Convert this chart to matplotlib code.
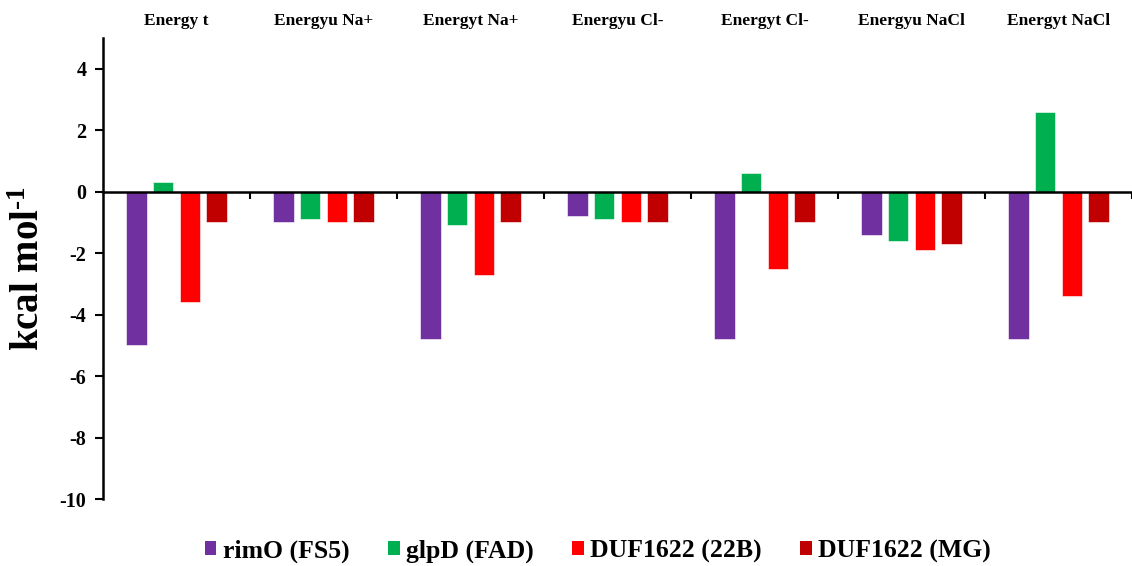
import matplotlib
matplotlib.use("Agg")
import matplotlib.pyplot as plt
import numpy as np
from matplotlib.patches import Patch

categories = ["Energy t", "Energyu Na+", "Energyt Na+", "Energyu Cl-",
              "Energyt Cl-", "Energyu NaCl", "Energyt NaCl"]
series_names = ["rimO (FS5)", "glpD (FAD)", "DUF1622 (22B)", "DUF1622 (MG)"]
rimO = [-5.0, -1.0, -4.8, -0.8, -4.8, -1.4, -4.8]
glpD = [0.3, -0.9, -1.1, -0.9, 0.6, -1.6, 2.6]
duf_22b = [-3.6, -1.0, -2.7, -1.0, -2.5, -1.9, -3.4]
duf_mg = [-1.0, -1.0, -1.0, -1.0, -1.0, -1.7, -1.0]
yticks = [-10, -8, -6, -4, -2, 0, 2, 4]

colors = ["#7030A0", "#00B050", "#FF0000", "#C00000"]
serif = ["Liberation Serif", "DejaVu Serif"]
plt.rcParams["mathtext.fontset"] = "custom"
plt.rcParams["mathtext.rm"] = "Liberation Serif:bold"
plt.rcParams["mathtext.bf"] = "Liberation Serif:bold"
plt.rcParams["mathtext.it"] = "Liberation Serif:bold"

W, H = 1132, 566
fig = plt.figure(figsize=(W / 100, H / 100), dpi=100)
ax = fig.add_axes([103 / W, (H - 499) / H, 1 - 103 / W, (499 - 38) / H])

x = np.arange(len(categories))
width = 0.141
pitch = 0.182
offsets = (np.arange(4) - 1.5) * pitch
for vals, off, c, name in zip([rimO, glpD, duf_22b, duf_mg], offsets, colors, series_names):
    ax.bar(x + off, vals, width, color=c, edgecolor="white", linewidth=0.4, label=name, zorder=2)

ax.set_xlim(-0.5, -0.5 + (W - 103) / 148.6)
ax.set_ylim(-10, 5)

# spines: left axis from -10 to 5, horizontal axis on zero
for s in ["top", "right"]:
    ax.spines[s].set_visible(False)
ax.spines["bottom"].set_position(("data", 0))
ax.spines["bottom"].set_linewidth(1.8)
ax.spines["bottom"].set_zorder(3)
ax.spines["left"].set_linewidth(1.8)

ax.set_xticks(np.arange(len(categories)) + 0.5)
ax.set_xticklabels([])
ax.tick_params(axis="x", direction="out", length=5, width=1.5)
ax.set_yticks(yticks)
ax.set_yticklabels([str(t) for t in yticks], fontfamily=serif, fontweight="bold", fontsize=14.5)
ax.tick_params(axis="y", direction="out", length=6, width=1.5, pad=6)

ax.set_ylabel("kcal mol$^{\\text{-1}}$", fontfamily=serif, fontweight="bold", fontsize=28)
ax.yaxis.set_label_coords(-55 / (W - 103), 0.5)

for i, cat in enumerate(categories):
    ax.text(i, 1.0 + 17 / 461, cat, transform=ax.get_xaxis_transform(), ha="center", va="center",
            fontfamily=serif, fontweight="bold", fontsize=12.5)

handles = [Patch(facecolor=c, edgecolor="none") for c in colors]
leg = fig.legend(handles, series_names, loc="center", bbox_to_anchor=(598 / W, 1 - 551 / H),
                 ncol=4, frameon=False, handlelength=0.45, handleheight=0.45, handletextpad=0.25,
                 columnspacing=1.5, prop={"family": serif, "weight": "bold", "size": 18.5})

fig.savefig("out.png", dpi=100)
